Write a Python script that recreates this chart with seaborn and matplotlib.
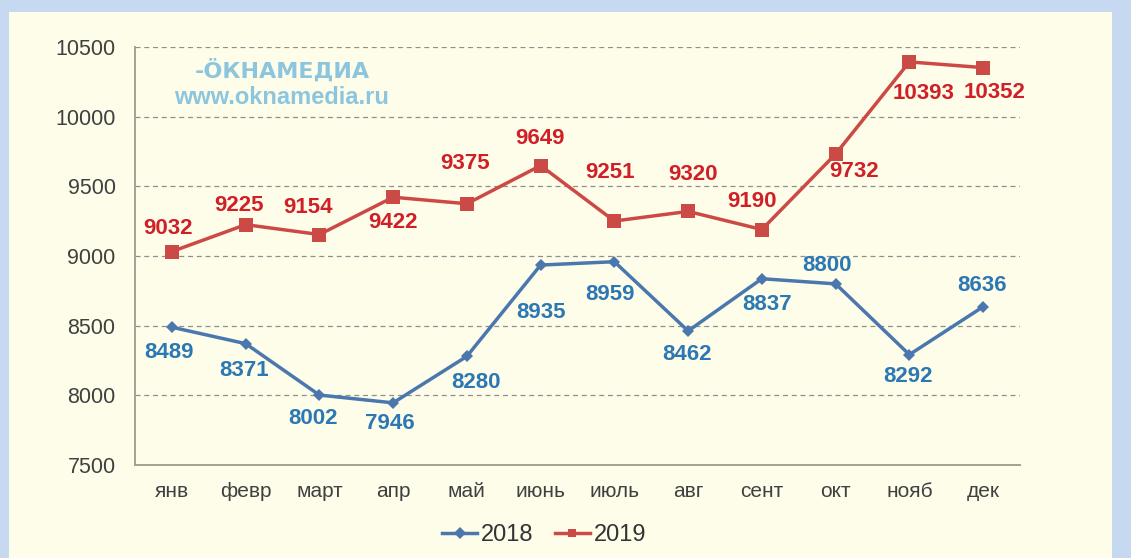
import matplotlib
matplotlib.use('Agg')
import matplotlib.pyplot as plt
from matplotlib.patches import Rectangle
import seaborn as sns
import pandas as pd

# data
months = ['янв', 'февр', 'март', 'апр', 'май', 'июнь',
          'июль', 'авг', 'сент', 'окт', 'нояб', 'дек']
vals_2018 = [8489, 8371, 8002, 7946, 8280, 8935, 8959, 8462, 8837, 8800, 8292, 8636]
vals_2019 = [9032, 9225, 9154, 9422, 9375, 9649, 9251, 9320, 9190, 9732, 10393, 10352]
yticks = [7500, 8000, 8500, 9000, 9500, 10000, 10500]

# label placement (pixel offsets from the point)
off_2018 = [(-3, 25), (-2, 27), (-6, 23), (-3, 21), (9, 26), (0, 47),
            (-4, 33), (-1, 24), (5, 26), (-9, -18), (-1, 22), (-1, -21)]
off_2019 = [(-4, -23), (-7, -19), (-11, -27), (0, 25), (-2, -40), (-1, -27),
            (-4, -49), (5, -37), (-10, -28), (18, 17), (14, 32), (11, 25)]

df = pd.DataFrame({
    'month': months * 2,
    'value': vals_2018 + vals_2019,
    'year': ['2018'] * 12 + ['2019'] * 12,
})

plt.rcParams['font.family'] = ['Liberation Sans', 'DejaVu Sans']

W, H = 1131, 558
fig = plt.figure(figsize=(W / 100, H / 100), dpi=100, facecolor='#c6d9f1')
fig.patches.append(Rectangle((9 / W, 0), (1112 - 9) / W, (H - 12) / H,
                             transform=fig.transFigure, facecolor='#fefde9',
                             edgecolor='none', zorder=-10))

ax = fig.add_axes([135 / W, 1 - 465 / H, (1020 - 135) / W, (465 - 47) / H])
ax.set_facecolor('none')
ax.set_zorder(2)

line_colors = {'2018': '#4a77ad', '2019': '#cc4a45'}
sns.lineplot(data=df, x='month', y='value', hue='year', style='year',
             markers={'2018': 'D', '2019': 's'}, dashes=False,
             palette=line_colors, linewidth=2.5, markeredgewidth=0,
             ax=ax, legend=True, sort=False)
for ln, ms in zip(ax.lines[:2], [6.5, 9.5]):
    ln.set_markersize(ms)

ax.set_xlim(-0.5, 11.5)
ax.set_ylim(7500, 10500)
ax.set_yticks(yticks)
ax.set_yticklabels([str(t) for t in yticks])
ax.set_xlabel('')
ax.set_ylabel('')
ax.tick_params(axis='both', length=0, labelsize=15, colors='#404040')
ax.tick_params(axis='y', labelsize=15.5, pad=14)
ax.tick_params(axis='x', pad=12)
for t in yticks[1:]:
    ax.axhline(t, color='#8f8f8f', linestyle=(0, (4, 3)), linewidth=0.9, zorder=0)
for s in ['top', 'right']:
    ax.spines[s].set_visible(False)
for s in ['left', 'bottom']:
    ax.spines[s].set_color('#a89f94')
    ax.spines[s].set_linewidth(1.4)

# data labels
for i, (v, (dx, dy)) in enumerate(zip(vals_2018, off_2018)):
    ax.annotate(str(v), (i, v), xytext=(dx * 0.72, -dy * 0.72),
                textcoords='offset points', ha='center', va='center',
                fontsize=16, fontweight='bold', color='#2b78b5')
for i, (v, (dx, dy)) in enumerate(zip(vals_2019, off_2019)):
    ax.annotate(str(v), (i, v), xytext=(dx * 0.72, -dy * 0.72),
                textcoords='offset points', ha='center', va='center',
                fontsize=16, fontweight='bold', color='#d01f26')

# watermark
fig.text(282 / W, 1 - 70 / H, '-ÖКНАМЕДИА', fontsize=16, fontweight='bold',
         family='DejaVu Sans', color='#8cc6de', ha='center', va='center')
fig.text(282 / W, 1 - 97 / H, 'www.oknamedia.ru', fontsize=17, fontweight='bold',
         color='#8cc6de', ha='center', va='center')

handles, labels = ax.get_legend_handles_labels()
ax.get_legend().remove()
fig.legend(handles, labels, loc='center', bbox_to_anchor=(544 / W, 1 - 535 / H),
           ncol=2, frameon=False, fontsize=17, handlelength=1.5,
           columnspacing=0.9, handletextpad=0.15, labelcolor='#333333')

fig.savefig('out.png', dpi=100, facecolor=fig.get_facecolor())
